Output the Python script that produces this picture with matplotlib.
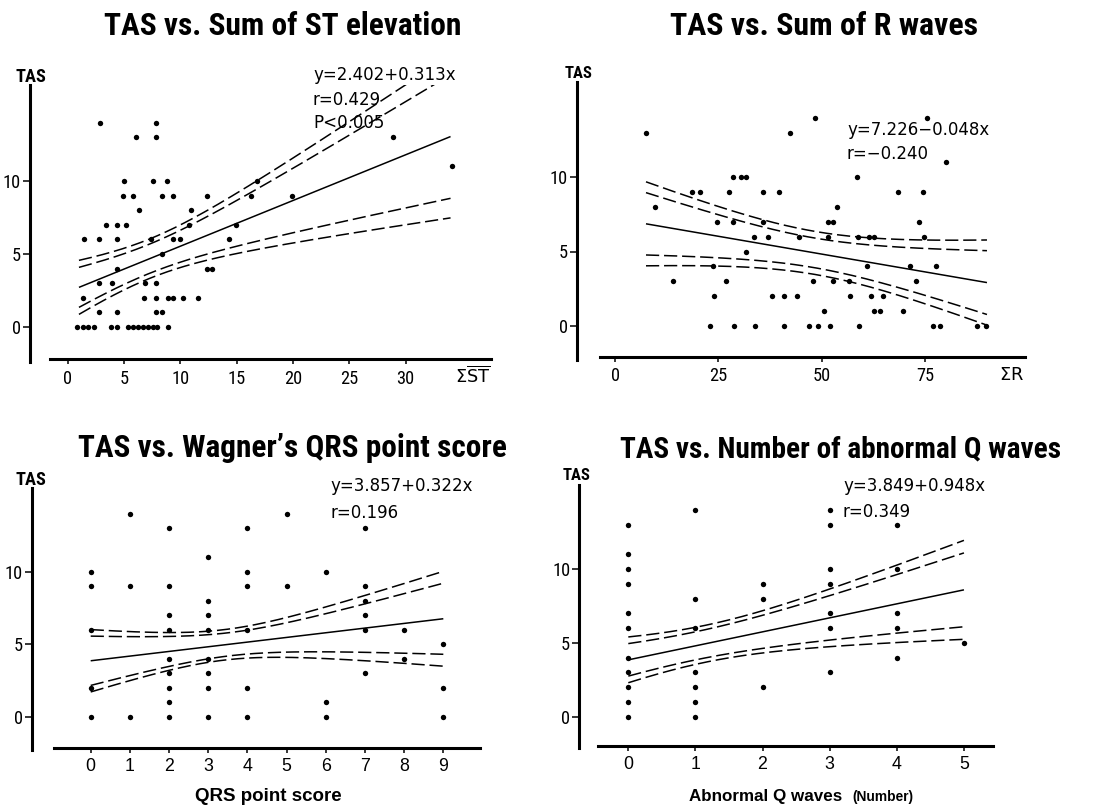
import numpy as np
import matplotlib
matplotlib.use("Agg")
import matplotlib.pyplot as plt
from matplotlib import font_manager

# ---------------- data ----------------
# Panel 1: TAS vs. Sum of ST elevation
st_x = [2.87, 6.04, 7.81, 7.81, 5.03, 4.88, 5.77, 7.55, 8.79, 8.34, 9.32, 6.36, 10.92, 12.4,
        3.37, 4.35, 5.18, 10.8, 14.95, 1.48, 2.81, 4.35, 7.4, 9.38, 9.97, 14.35, 8.4, 4.35,
        12.4, 12.85, 2.81, 3.96, 6.86, 7.81, 1.39, 6.8, 7.84, 8.88, 9.38, 10.2, 11.54, 2.81,
        4.35, 7.81, 8.4, 0.86, 1.33, 1.83, 2.37, 3.85, 4.35, 5.38, 5.83, 6.27, 6.71, 7.16,
        7.55, 7.9, 8.88, 16.3, 16.84, 19.95, 28.86, 34.1]
st_y = [14, 13, 14, 13, 10, 9, 9, 10, 10, 9, 9, 8, 8, 9,
        7, 7, 7, 7, 7, 6, 6, 6, 6, 6, 6, 6, 5, 4,
        4, 4, 3, 3, 3, 3, 2, 2, 2, 2, 2, 2, 2, 1,
        1, 1, 1, 0, 0, 0, 0, 0, 0, 0, 0, 0, 0, 0,
        0, 0, 0, 9, 10, 9, 13, 11]
st_fit = (2.402, 0.313)
st_range = (1.0, 34.0)
st_band_inner = (1.37, 1.0, 4.23)
st_band_outer = (1.85, 1.35, 5.57)
st_xticks = [0, 5, 10, 15, 20, 25, 30]
st_xticklabels = ["0", "5", "10", "15", "20", "25", "30"]

# Panel 2: TAS vs. Sum of R waves
r_x = [7.5, 9.7, 14.0, 18.7, 20.6, 23.0, 23.6, 24.0, 24.8, 26.9, 27.7, 28.6, 28.6, 28.9,
       30.5, 31.6, 31.7, 33.7, 33.9, 35.7, 35.7, 36.9, 38.1, 39.8, 40.9, 40.9, 42.3, 44.1,
       44.6, 47.0, 47.8, 48.5, 49.0, 50.6, 51.6, 52.8, 51.5, 52.0, 52.7, 53.6, 56.7, 56.9,
       58.5, 58.9, 59.0, 60.9, 61.5, 61.9, 62.7, 62.7, 64.0, 64.8, 68.5, 69.8, 71.4, 72.8,
       73.6, 74.6, 74.8, 75.4, 76.9, 77.7, 78.6, 80.2, 87.7, 89.8]
r_y = [13, 8, 3, 9, 9, 0, 4, 2, 7, 3, 9, 10, 7, 0,
       10, 10, 5, 6, 0, 9, 7, 6, 2, 9, 2, 0, 13, 2,
       6, 0, 3, 14, 0, 1, 7, 7, 6, 0, 3, 8, 3, 2,
       10, 6, 0, 4, 6, 2, 6, 1, 1, 2, 9, 1, 4, 3,
       7, 9, 6, 14, 0, 4, 0, 11, 0, 0]
r_fit = (7.226, -0.048)
r_range = (7.5, 90.0)
r_band_inner = (2.1, 1.0, 2.15)
r_band_outer = (2.83, 1.45, 2.87)
r_xticks = [0, 25, 50, 75]
r_xticklabels = ["0", "25", "50", "75"]

# Panel 3: TAS vs. Wagner's QRS point score
qrs_x = [0, 0, 0, 0, 0,
         1, 1, 1,
         2, 2, 2, 2, 2, 2, 2, 2, 2,
         3, 3, 3, 3, 3, 3, 3, 3,
         4, 4, 4, 4, 4, 4,
         5, 5,
         6, 6, 6,
         7, 7, 7, 7, 7, 7,
         8, 8,
         9, 9, 9]
qrs_y = [10, 9, 6, 2, 0,
         14, 9, 0,
         13, 9, 7, 6, 4, 3, 2, 1, 0,
         11, 8, 7, 6, 4, 3, 2, 0,
         13, 10, 9, 6, 2, 0,
         14, 9,
         10, 1, 0,
         13, 9, 8, 7, 6, 3,
         6, 4,
         5, 2, 0]
qrs_fit = (3.857, 0.322)
qrs_range = (0.0, 9.0)
qrs_band_inner = (1.7, 0.8, 2.45)
qrs_band_outer = (2.15, 1.05, 3.27)
qrs_xticks = [0, 1, 2, 3, 4, 5, 6, 7, 8, 9]
qrs_xticklabels = ["0", "1", "2", "3", "4", "5", "6", "7", "8", "9"]

# Panel 4: TAS vs. Number of abnormal Q waves
q_x = [0, 0, 0, 0, 0, 0, 0, 0, 0, 0, 0,
       1, 1, 1, 1, 1, 1, 1,
       2, 2, 2,
       3, 3, 3, 3, 3, 3, 3,
       4, 4, 4, 4, 4,
       5]
q_y = [13, 11, 10, 9, 7, 6, 4, 3, 2, 1, 0,
       14, 8, 6, 3, 2, 1, 0,
       9, 8, 2,
       14, 13, 10, 9, 7, 6, 3,
       13, 10, 7, 6, 4,
       5]
q_fit = (3.849, 0.948)
q_range = (0.0, 5.0)
q_band_inner = (1.1, 0.95, 2.5)
q_band_outer = (1.55, 1.25, 3.35)
q_xticks = [0, 1, 2, 3, 4, 5]
q_xticklabels = ["0", "1", "2", "3", "4", "5"]

y_ticks = [0, 5, 10]
y_ticklabels = ["0", "5", "10"]

# ---------------- fonts ----------------
COND = {"condensed", "semi-condensed", "extra-condensed", "ultra-condensed"}


def is_narrow(f):
    st = f.stretch
    if isinstance(st, str):
        c = st in COND
    else:
        c = st < 500
    return c or ("Narrow" in f.name) or ("Condensed" in f.name)


pref = ["Liberation Sans Narrow", "Roboto Condensed", "DejaVu Sans", "Open Sans Condensed",
        "Open Sans", "Noto Sans", "Noto Sans Condensed", "Inter"]
cands = [f for f in font_manager.fontManager.ttflist if is_narrow(f)]
NFAM, NSTR = "DejaVu Sans", "normal"
found = False
for p in pref:
    m = [f for f in cands if f.name == p]
    if m:
        NFAM, NSTR = p, m[0].stretch
        found = True
        break
if not found and cands:
    NFAM, NSTR = cands[0].name, cands[0].stretch
    found = True
NK = dict(family=NFAM, stretch=NSTR)
nscale = 1.0 if found else 0.82
names = {f.name for f in font_manager.fontManager.ttflist}
REG = "Liberation Sans" if "Liberation Sans" in names else "DejaVu Sans"

plt.rcParams["lines.scale_dashes"] = False

W, H = 1107, 810
fig = plt.figure(figsize=(W / 100, H / 100), dpi=100)
fig.patch.set_facecolor("white")
renderer = fig.canvas.get_renderer()


def ftext(px, py, s, fit_width=None, **kw):
    t = fig.text(px / W, 1 - py / H, s, **kw)
    if fit_width is not None:
        bb = t.get_window_extent(renderer=renderer)
        t.set_fontsize(t.get_fontsize() * fit_width / bb.width)
    return t


def halfwidth(xs, x0, x1, wl, wm, wr):
    a = wm ** 2
    r = np.sqrt((wl ** 2 - a) / (wr ** 2 - a))
    xm = (x0 + r * x1) / (1 + r)
    b = (wl ** 2 - a) / (xm - x0) ** 2
    return np.sqrt(a + b * (xs - xm) ** 2)


def panel(geom, xs_data, ys_data, fit, rng, inner, outer, xticks, xticklabels, narrow_x):
    L, B, R, T, x0px, xsc, y0px, ysc, xstart = geom
    ax = fig.add_axes([L / W, 1 - B / H, (R - L) / W, (B - T) / H])
    xlim = ((L - x0px) / xsc, (R - x0px) / xsc)
    ylim = ((y0px - B) / ysc, (y0px - T) / ysc)
    ax.set_xlim(*xlim)
    ax.set_ylim(*ylim)
    ax.set_facecolor("none")
    for s in ("top", "right"):
        ax.spines[s].set_visible(False)
    ax.spines["left"].set_linewidth(2.2)
    ax.spines["bottom"].set_linewidth(2.2)
    ax.spines["left"].set_bounds(ylim[0] - 2.5 / ysc, ylim[1])
    ax.spines["bottom"].set_bounds((xstart - x0px) / xsc, xlim[1])
    if narrow_x:
        ax.set_xticks(xticks, labels=xticklabels, fontsize=13.2 * nscale,
                      fontfamily=NFAM, fontstretch=NSTR)
    else:
        ax.set_xticks(xticks, labels=xticklabels, fontsize=12.8, fontfamily=REG)
    ax.set_yticks(y_ticks, labels=y_ticklabels, fontsize=13.2 * nscale,
                  fontfamily=NFAM, fontstretch=NSTR)
    ax.tick_params(axis="x", direction="out", length=3.5, width=1.1, pad=4)
    ax.tick_params(axis="y", direction="out", length=5, width=1.1, pad=1.5)

    xx = np.linspace(rng[0], rng[1], 300)
    yhat = fit[0] + fit[1] * xx
    ax.plot(xx, yhat, color="black", lw=1.1, solid_capstyle="butt")
    for band in (inner, outer):
        w = halfwidth(xx, rng[0], rng[1], *band)
        for sgn in (1, -1):
            ax.plot(xx, yhat + sgn * w, color="black", lw=1.1, dashes=(9.5, 3.5))
    ax.scatter(xs_data, ys_data, s=15, c="black", linewidths=0, zorder=3, clip_on=False)
    return ax


panel((30, 359.5, 491, 85, 67.7, 11.26, 327, 14.6, 50),
      st_x, st_y, st_fit, st_range, st_band_inner, st_band_outer,
      st_xticks, st_xticklabels, True)
panel((577, 357, 1025, 82, 615, 4.133, 325.7, 14.84, 600),
      r_x, r_y, r_fit, r_range, r_band_inner, r_band_outer,
      r_xticks, r_xticklabels, True)
panel((32, 747.5, 480, 488, 90.7, 39.18, 716.7, 14.5, 54),
      qrs_x, qrs_y, qrs_fit, qrs_range, qrs_band_inner, qrs_band_outer,
      qrs_xticks, qrs_xticklabels, False)
panel((579.3, 745.7, 993.3, 485, 628.3, 67.13, 716.7, 14.77, 597.7),
      q_x, q_y, q_fit, q_range, q_band_inner, q_band_outer,
      q_xticks, q_xticklabels, False)

# ---------------- texts ----------------
tkw = dict(ha="center", va="baseline", fontsize=26, fontweight="bold", **NK)
ftext(283, 35, "TAS vs. Sum of ST elevation", fit_width=357, **tkw)
ftext(824, 35, "TAS vs. Sum of R waves", fit_width=308, **tkw)
ftext(292, 457, "TAS vs. Wagner\u2019s QRS point score", fit_width=429, **tkw)
ftext(841, 457, "TAS vs. Number of abnormal Q waves", fit_width=442, **tkw)

lkw = dict(ha="center", va="baseline", fontsize=12.5, fontweight="bold", **NK)
ftext(31, 82, "TAS", fit_width=31, **lkw)
ftext(579, 78, "TAS", fit_width=28, **lkw)
ftext(31, 485, "TAS", fit_width=31, **lkw)
ftext(577, 480, "TAS", fit_width=28, **lkw)

ekw = dict(ha="left", va="baseline", fontsize=12, family="DejaVu Sans")
ftext(313, 80, "y=2.402+0.313x", **ekw)
ftext(313, 105, "r=0.429", **ekw)
ftext(313, 128, "P<0.005", **ekw)
ftext(847, 135, "y=7.226\u22120.048x", **ekw)
ftext(847, 159, "r=\u22120.240", **ekw)
ftext(330, 491, "y=3.857+0.322x", **ekw)
ftext(330, 518, "r=0.196", **ekw)
ftext(843, 491, "y=3.849+0.948x", **ekw)
ftext(843, 517, "r=0.349", **ekw)

ftext(473, 383, r"$\Sigma\overline{\mathrm{ST}}$", ha="center", va="baseline",
      fontsize=12.8 * nscale)
ftext(1012, 380, r"$\Sigma\mathrm{R}$", ha="center", va="baseline", fontsize=12.8 * nscale)

ftext(268, 801, "QRS point score", fit_width=147, ha="center", va="baseline",
      fontsize=13.5, fontweight="bold", family=REG)
ftext(842, 801, "Abnormal Q waves", fit_width=154, ha="right", va="baseline",
      fontsize=12.3, fontweight="bold", family=REG)
ftext(852, 801, "(Number)", fit_width=61, ha="left", va="baseline",
      fontsize=9.9, fontweight="bold", family=REG)

fig.savefig("out.png", dpi=100, facecolor="white")
